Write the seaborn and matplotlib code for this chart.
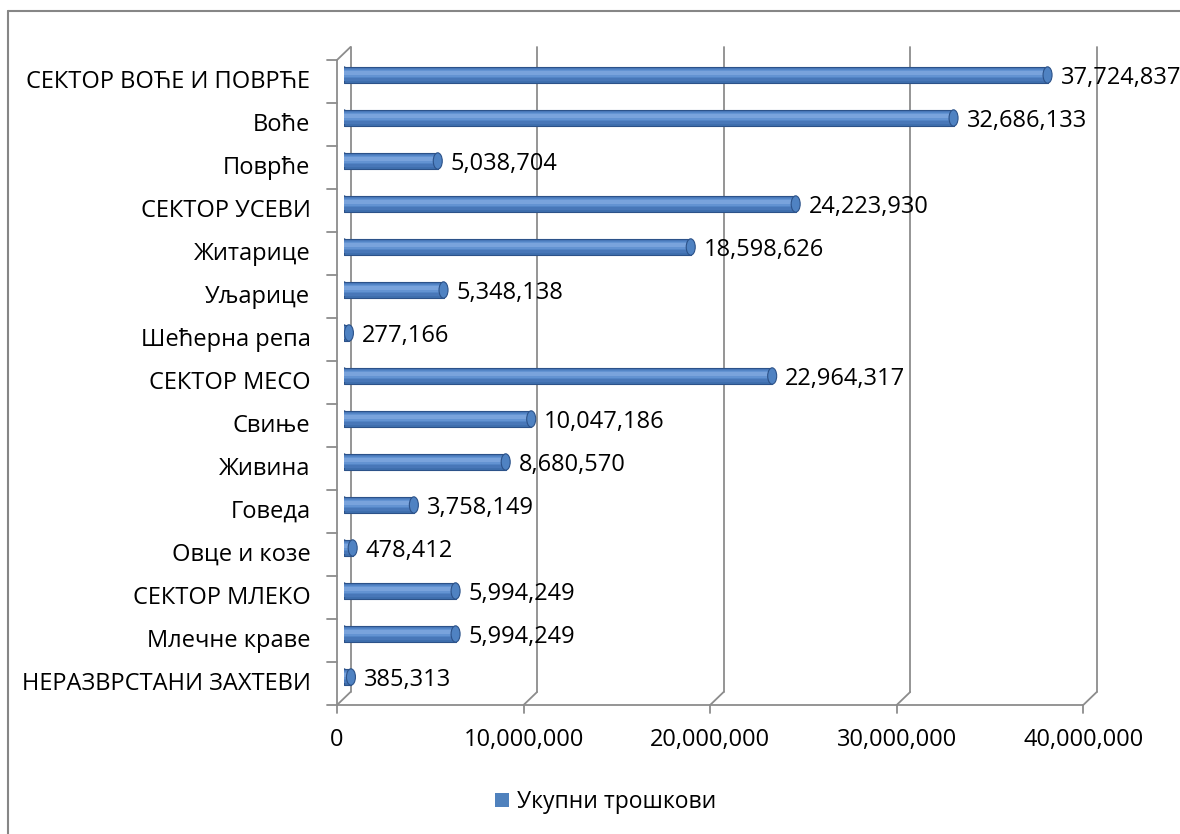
import matplotlib
matplotlib.use("Agg")
import matplotlib.pyplot as plt
import seaborn as sns
import pandas as pd
from matplotlib.transforms import ScaledTranslation
from matplotlib.patches import Ellipse, Patch
from matplotlib.lines import Line2D

categories = ["СЕКТОР ВОЋЕ И ПОВРЋЕ", "Воће", "Поврће", "СЕКТОР УСЕВИ", "Житарице",
              "Уљарице", "Шећерна репа", "СЕКТОР МЕСО", "Свиње", "Живина", "Говеда",
              "Овце и козе", "СЕКТОР МЛЕКО", "Млечне краве", "НЕРАЗВРСТАНИ ЗАХТЕВИ"]
values = [37724837, 32686133, 5038704, 24223930, 18598626, 5348138, 277166,
          22964317, 10047186, 8680570, 3758149, 478412, 5994249, 5994249, 385313]
x_ticks = [0, 10000000, 20000000, 30000000, 40000000]
x_tick_labels = ["0", "10,000,000", "20,000,000", "30,000,000", "40,000,000"]
series_name = "Укупни трошкови"

sns.set_theme(style="white")
plt.rcParams['font.family'] = ['Open Sans', 'DejaVu Sans']
plt.rcParams['text.color'] = 'black'
plt.rcParams['xtick.color'] = 'black'
plt.rcParams['ytick.color'] = 'black'

W, H = 1180, 834
fig = plt.figure(figsize=(W / 100, H / 100), dpi=100)

FS = 17

# middle plane of the 3D box (pixel coords from top-left)
L, R, T, B = 343.75, 1090.0, 53.5, 698.5
ax = fig.add_axes([L / W, 1 - B / H, (R - L) / W, (B - T) / H])

df = pd.DataFrame({"cat": categories, "value": values})
base = "#3f6fae"
BH = 0.38
sns.barplot(data=df, x="value", y="cat", orient="h", color=base, saturation=1,
            width=BH, ax=ax, linewidth=0.8, edgecolor="#2c5289", zorder=3)
ax.set_xlim(0, 40000000)
ax.set_ylim(len(categories) - 0.5, -0.5)

ypos = list(range(len(categories)))
# cylinder shading (layers from dark to light, highlight slightly above centre)
shade = [(0.30, -0.01, "#4877b8"), (0.22, -0.03, "#5385c6"), (0.15, -0.04, "#6393d2"),
         (0.08, -0.05, "#79a3dc")]
for h, off, c in shade:
    ax.barh([y + off for y in ypos], values, height=h, color=c, zorder=4, linewidth=0)

xmax = 40000000
pxw = R - L
pxh = B - T
cap_w = 9 * xmax / pxw
for y, v in zip(ypos, values):
    ax.add_patch(Ellipse((v, y), cap_w, BH, facecolor="#4f82c2", edgecolor="#2c5289",
                         linewidth=0.8, zorder=5))
    ax.add_patch(Ellipse((0, y), cap_w, BH, facecolor="#4a7bbd", edgecolor="#2c5289",
                         linewidth=0.8, zorder=2.5))

for y, v in zip(ypos, values):
    ax.annotate(f"{v:,}", (v, y), xytext=(13, -3), textcoords="offset pixels",
                ha="left", va="center", fontsize=FS, color="black", zorder=6,
                annotation_clip=False)

# 3D box frame
gc = "#8c8c8c"
lw = 1.3
dx = 6.75 * xmax / pxw
dyf = 6.5 / pxh
xt = ax.get_xaxis_transform()
tick_px = 8
for t in x_ticks:
    ax.add_line(Line2D([t + dx, t + dx], [dyf, 1 + dyf], transform=xt, color=gc, lw=lw,
                       clip_on=False, zorder=1))
    ax.add_line(Line2D([t + dx, t - dx], [dyf, -dyf], transform=xt, color=gc, lw=lw,
                       clip_on=False, zorder=1))
    ax.add_line(Line2D([t - dx, t - dx], [-dyf, -dyf - tick_px / pxh], transform=xt,
                       color=gc, lw=lw, clip_on=False, zorder=1))
ax.add_line(Line2D([-dx, xmax - dx], [-dyf, -dyf], transform=xt, color=gc, lw=lw,
                   clip_on=False, zorder=1))
ax.add_line(Line2D([-dx, -dx], [-dyf, 1 - dyf], transform=xt, color=gc, lw=lw,
                   clip_on=False, zorder=1))
ax.add_line(Line2D([-dx, dx], [1 - dyf, 1 + dyf], transform=xt, color=gc, lw=lw,
                   clip_on=False, zorder=1))
ty = ScaledTranslation(0, -6.5 / 100, fig.dpi_scale_trans)
for k in range(len(categories) + 1):
    yb = k - 0.5
    ax.add_line(Line2D([-dx - 10 * xmax / pxw, -dx], [yb, yb], transform=ax.transData + ty,
                       color=gc, lw=lw, clip_on=False, zorder=1))

for s in ax.spines.values():
    s.set_visible(False)
ax.grid(False)

ax.set_xticks(x_ticks)
ax.set_xticklabels(x_tick_labels, fontsize=FS, color="black")
ax.tick_params(axis="x", length=0, pad=21)
for lab in ax.get_xticklabels():
    lab.set_transform(lab.get_transform() + ScaledTranslation(-6.75 / 100, 0, fig.dpi_scale_trans))
ax.set_yticks(ypos)
ax.set_yticklabels(categories, fontsize=FS, color="black")
ax.tick_params(axis="y", length=0, pad=24)
for lab in ax.get_yticklabels():
    lab.set_transform(lab.get_transform() + ScaledTranslation(0, -4 / 100, fig.dpi_scale_trans))
ax.set_xlabel("")
ax.set_ylabel("")

leg = fig.legend(handles=[Patch(facecolor="#4f81bd", edgecolor="none", label=series_name)],
                 loc="center", bbox_to_anchor=(606 / W, 1 - 802 / H), frameon=False,
                 fontsize=16.5, handlelength=0.6, handleheight=0.6, handletextpad=0.35)
for txt in leg.get_texts():
    txt.set_color("black")

# outer chart border (top & left visible)
fig.add_artist(Line2D([7.5 / W, 1], [1 - 10.5 / H, 1 - 10.5 / H], transform=fig.transFigure,
                      color="#868686", lw=1.5))
fig.add_artist(Line2D([7.5 / W, 7.5 / W], [0, 1 - 10.5 / H], transform=fig.transFigure,
                      color="#868686", lw=1.5))

fig.savefig("out.png", dpi=100, facecolor="white")
